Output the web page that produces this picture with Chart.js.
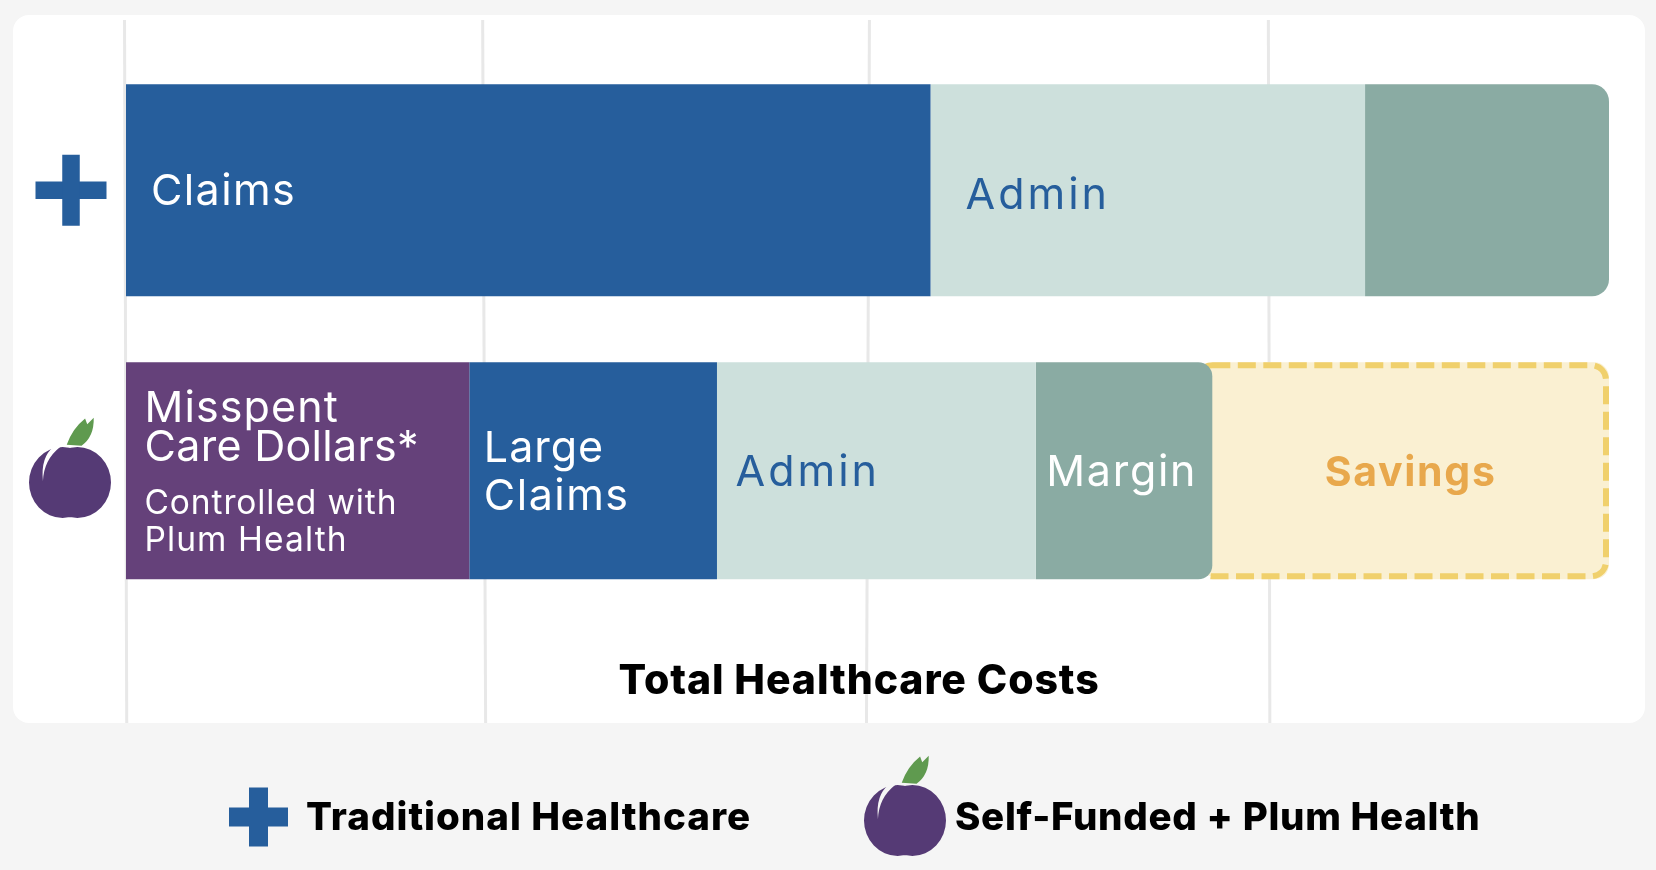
<!DOCTYPE html>
<html>
<head>
<meta charset="utf-8">
<title>Total Healthcare Costs</title>
<script src="https://cdn.jsdelivr.net/npm/chart.js@4"></script>
<style>
  html, body { margin: 0; padding: 0; background: #f5f5f5; }
  #wrap { width: 1656px; height: 870px; }
</style>
</head>
<body>
<div id="wrap"><canvas id="myChart" width="1656" height="870"></canvas></div>
<script>
// data, share of total healthcare costs
const rows = ['Traditional Healthcare', 'Self-Funded + Plum Health'];
const claims = [54.25, null];
const adminTrad = [29.3, null];
const marginTrad = [16.45, null];
const misspent = [null, 23.15];
const largeClaims = [null, 16.7];
const adminPlum = [null, 21.5];
const marginPlum = [null, 11.9];
const savings = [null, 26.75];
const gridTop = [-0.1, 24.05, 50.13, 77.03];
const gridBottom = [0.05, 24.25, 49.93, 77.13];
const axisTitle = 'Total Healthcare Costs';

const BLUE = '#265e9c';
const PALE = '#cde0dc';
const TEAL = '#8aaba3';
const PURPLE = '#65417a';
const CREAM = '#faf0d2';
const YELLOW = '#f0d06c';
const ORANGE = '#e8a84c';
const PLUM = '#553a75';
const LEAF = '#5f9a4f';
const FONT = 'Inter, "Open Sans", sans-serif';

function bar(label, data, color, thickness, radius) {
  return {
    label, data,
    backgroundColor: color,
    barThickness: thickness,
    borderWidth: 0,
    borderSkipped: false,
    borderRadius: radius || 0,
    inflateAmount: 0
  };
}

// text drawn inside the bars, by dataset index
const barLabels = {
  0: [{ text: 'Claims', dx: 25, dy: 2, size: 43, ls: 1.4, color: '#fff' }],
  1: [{ text: 'Admin', dx: 35, dy: 6, size: 43, ls: 3, color: BLUE }],
  3: [
    { text: 'Misspent', dx: 18.5, dy: -62, size: 43, ls: 1.1, color: '#fff' },
    { text: 'Care Dollars*', dx: 18.5, dy: -23, size: 43, ls: 0.3, color: '#fff' },
    { text: 'Controlled with', dx: 18.5, dy: 33, size: 33.5, ls: 0.9, color: '#fff' },
    { text: 'Plum Health', dx: 18.5, dy: 70, size: 33.5, ls: 1.1, color: '#fff' }
  ],
  4: [
    { text: 'Large', dx: 14.5, dy: -22, size: 43, ls: 1, color: '#fff' },
    { text: 'Claims', dx: 14.5, dy: 26, size: 43, ls: 1.5, color: '#fff' }
  ],
  5: [{ text: 'Admin', dx: 18.5, dy: 2, size: 43, ls: 3, color: BLUE }],
  6: [{ text: 'Margin', dx: 10.5, dy: 2, size: 43, ls: 1.7, color: '#fff' }]
};

function drawCross(ctx, cx, cy, size, thick) {
  ctx.fillStyle = BLUE;
  ctx.fillRect(cx - size / 2, cy - thick / 2, size, thick);
  ctx.fillRect(cx - thick / 2, cy - size / 2, thick, size);
}

function drawPlum(ctx, cx, cy, w, h, leafH, edge) {
  ctx.save();
  ctx.fillStyle = PLUM;
  ctx.beginPath();
  ctx.ellipse(cx - w * 0.09, cy, w * 0.41, h * 0.5, 0, 0, Math.PI * 2);
  ctx.ellipse(cx + w * 0.09, cy, w * 0.41, h * 0.5, 0, 0, Math.PI * 2);
  ctx.fill();
  // crescent highlight
  ctx.fillStyle = edge;
  ctx.beginPath();
  ctx.moveTo(cx - w * 0.2, cy - h * 0.5);
  ctx.quadraticCurveTo(cx - w * 0.36, cy - h * 0.36, cx - w * 0.33, cy - h * 0.02);
  ctx.quadraticCurveTo(cx - w * 0.32, cy - h * 0.32, cx - w * 0.12, cy - h * 0.5);
  ctx.closePath();
  ctx.fill();
  // leaf
  const lx = cx - w * 0.04, ly = cy - h * 0.53;
  ctx.fillStyle = LEAF;
  ctx.beginPath();
  ctx.moveTo(lx, ly);
  ctx.quadraticCurveTo(lx + leafH * 0.2, ly - leafH * 0.6, lx + leafH * 0.68, ly - leafH * 0.98);
  ctx.lineTo(lx + leafH * 0.76, ly - leafH * 0.76);
  ctx.lineTo(lx + leafH, ly - leafH);
  ctx.quadraticCurveTo(lx + leafH * 1.02, ly - leafH * 0.3, lx + leafH * 0.55, ly + 1);
  ctx.closePath();
  ctx.fill();
  ctx.restore();
}

const cardPlugin = {
  id: 'card',
  beforeDraw(chart) {
    const { ctx } = chart;
    const x = chart.scales.x;
    ctx.save();
    ctx.fillStyle = '#fff';
    ctx.beginPath();
    ctx.roundRect(13, 15, 1632, 708, 16);
    ctx.fill();
    ctx.strokeStyle = '#e8e8e8';
    ctx.lineWidth = 3;
    gridTop.forEach((v, i) => {
      ctx.beginPath();
      ctx.moveTo(x.getPixelForValue(v), 20);
      ctx.lineTo(x.getPixelForValue(gridBottom[i]), 723);
      ctx.stroke();
    });
    ctx.restore();
  },
  // dashed savings box, runs in under the rounded corner of the margin bar
  afterDatasetDraw(chart, args) {
    if (args.index !== 7) return;
    const el = args.meta.data[1];
    const { ctx } = chart;
    const left = el.base - 18, right = el.x, top = el.y - el.height / 2;
    ctx.save();
    ctx.fillStyle = CREAM;
    ctx.strokeStyle = YELLOW;
    ctx.lineWidth = 6;
    ctx.setLineDash([18, 7.5]);
    ctx.beginPath();
    ctx.roundRect(left + 3, top + 3, right - left - 6, el.height - 6, 15);
    ctx.fill();
    ctx.stroke();
    ctx.restore();
  },
  afterDraw(chart) {
    const { ctx } = chart;
    const y = chart.scales.y;
    ctx.save();
    ctx.textBaseline = 'middle';
    ctx.textAlign = 'left';
    Object.keys(barLabels).forEach(ds => {
      const row = chart.data.datasets[ds].data[0] === null ? 1 : 0;
      const el = chart.getDatasetMeta(+ds).data[row];
      barLabels[ds].forEach(l => {
        ctx.font = '400 ' + l.size + 'px ' + FONT;
        ctx.letterSpacing = l.ls + 'px';
        ctx.fillStyle = l.color;
        ctx.fillText(l.text, el.base + l.dx, el.y + l.dy);
      });
    });
    const sav = chart.getDatasetMeta(7).data[1];
    ctx.textAlign = 'center';
    ctx.font = '700 41px ' + FONT;
    ctx.letterSpacing = '1.7px';
    ctx.fillStyle = ORANGE;
    ctx.fillText('Savings', (sav.base + sav.x) / 2, sav.y + 3);

    // axis title
    ctx.font = '800 41px ' + FONT;
    ctx.letterSpacing = '0.9px';
    ctx.fillStyle = '#000';
    ctx.fillText(axisTitle, 859, 682);

    // row icons
    drawCross(ctx, 71, y.getPixelForValue(rows[0]), 71, 17.5);
    drawPlum(ctx, 70, 482.5, 82, 71, 27, '#fff');

    // legend
    drawCross(ctx, 258.5, 817, 59, 19);
    drawPlum(ctx, 905, 820.5, 82, 71, 27, '#f5f5f5');
    ctx.textAlign = 'left';
    ctx.font = '800 38.5px ' + FONT;
    ctx.letterSpacing = '1px';
    ctx.fillStyle = '#000';
    ctx.fillText(rows[0], 306, 818);
    ctx.letterSpacing = '0.67px';
    ctx.fillText(rows[1], 955, 818);
    ctx.restore();
  }
};

new Chart(document.getElementById('myChart'), {
  type: 'bar',
  data: {
    labels: rows,
    datasets: [
      bar('Claims', claims, BLUE, 212),
      bar('Admin', adminTrad, PALE, 212),
      bar('Margin', marginTrad, TEAL, 212, { topRight: 17, bottomRight: 17 }),
      bar('Misspent Care Dollars', misspent, PURPLE, 217),
      bar('Large Claims', largeClaims, BLUE, 217),
      bar('Admin', adminPlum, PALE, 217),
      bar('Margin', marginPlum, TEAL, 217, { topRight: 14, bottomRight: 14 }),
      bar('Savings', savings, CREAM, 217, { topRight: 15, bottomRight: 15 })
    ]
  },
  options: {
    indexAxis: 'y',
    responsive: false,
    animation: false,
    layout: { padding: { left: 126, right: 47, top: 50, bottom: 259 } },
    plugins: { legend: { display: false }, tooltip: { enabled: false } },
    scales: {
      x: { display: false, stacked: true, min: 0, max: 100 },
      y: { display: false, stacked: true }
    }
  },
  plugins: [cardPlugin]
});
</script>
</body>
</html>
